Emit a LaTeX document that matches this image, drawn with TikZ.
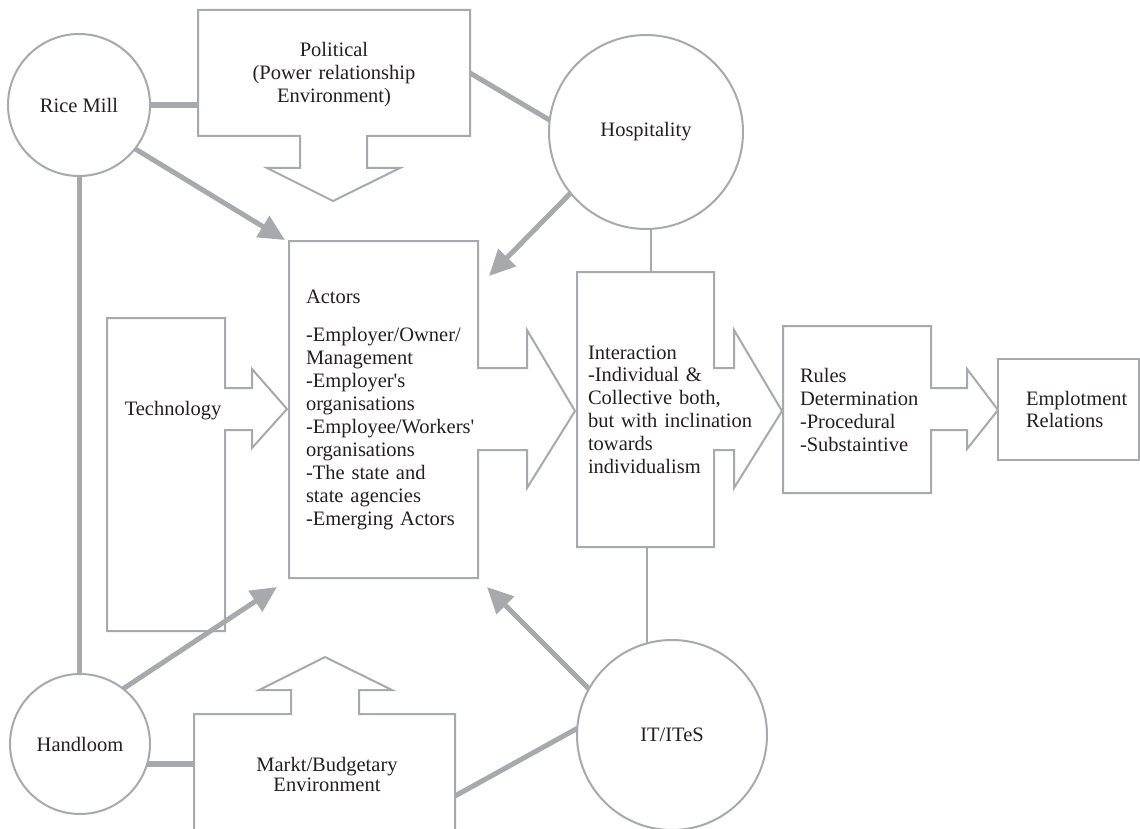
\documentclass[tikz,border=0pt]{standalone}
\usepackage{fontspec}
\setmainfont{Liberation Serif}[Ligatures=TeXOff]
\usetikzlibrary{arrows.meta,calc}
\definecolor{linec}{HTML}{A7A9AC}
\definecolor{textc}{HTML}{231F20}
\begin{document}
\begin{tikzpicture}[x=1pt,y=-1pt,
  outline/.style={draw=linec, line width=2pt, fill=white, line join=miter},
  hub/.style={circle, draw=linec, line width=2pt, fill=white, inner sep=0pt, outer sep=0pt, text=textc, font=\fontsize{20.5}{23}\selectfont},
  area/.style={rectangle, inner sep=0pt, outer sep=0pt},
  txt/.style={inner sep=0pt, outer sep=0pt, text=textc, font=\fontsize{20.5}{22.9}\selectfont, align=left, anchor=base west},
  thickline/.style={draw=linec, line width=6pt},
  link/.style={draw=linec, line width=5pt},
  thinline/.style={draw=linec, line width=2pt},
  push/.style={draw=linec, line width=5pt, -{Triangle[length=26pt,width=24pt]}}
]
\fill[white] (0,0) rectangle (1140,829);
\useasboundingbox (0,0) rectangle (1140,829);

% block-arrow outlines
\draw[outline] (198,10) -- (470,10) -- (470,136) -- (367,136) -- (367,168) -- (400,168) -- (333,201) -- (267,168) -- (300,168) -- (300,136) -- (198,136) -- cycle;
\draw[outline] (107,318) -- (225,318) -- (225,388) -- (252,388) -- (252,369) -- (287,409) -- (252,448) -- (252,430) -- (225,430) -- (225,631) -- (107,631) -- cycle;
\draw[outline] (289,241) -- (478,241) -- (478,368) -- (527,368) -- (527,330) -- (575,411) -- (527,488) -- (527,450) -- (478,450) -- (478,578) -- (289,578) -- cycle;
\draw[outline] (577,272) -- (714,272) -- (714,368) -- (734,368) -- (734,330) -- (782,411) -- (734,488) -- (734,450) -- (714,450) -- (714,547) -- (577,547) -- cycle;
\draw[outline] (783,326) -- (931,326) -- (931,388) -- (967,388) -- (967,369) -- (998,410) -- (967,449) -- (967,430) -- (931,430) -- (931,493) -- (783,493) -- cycle;
\draw[outline] (998,359) rectangle (1139,460);
\draw[outline] (194,845) -- (194,714) -- (291,714) -- (291,690) -- (259,690) -- (325,657) -- (392,690) -- (359,690) -- (359,714) -- (455,714) -- (455,845);

% named areas of the boxes
\node[area, minimum width=272pt, minimum height=126pt] (pol) at (334,73) {};
\node[area, minimum width=189pt, minimum height=337pt] (actors) at (383.5,409.5) {};
\node[area, minimum width=137pt, minimum height=275pt] (inter) at (645.5,409.5) {};
\node[area, minimum width=261pt, minimum height=115pt] (market) at (324.5,771.5) {};

% circles
\node[hub, minimum size=142pt] (rice) at (79,105) {Rice Mill};
\node[hub, minimum size=194pt] (hosp) at (646,132) {Hospitality};
\node[hub, minimum size=140pt] (hand) at (80,744) {Handloom};
\node[hub, minimum size=190pt] (it) at (672,735) {IT/ITeS};

% texts
\node[txt, align=center, anchor=base, text width=260pt, font=\fontsize{20.5}{23}\selectfont] (poltxt) at (334,57) {Political\\(Power relationship\\Environment)};
\node[txt, anchor=base] (techtxt) at (173,415) {Technology};
\node[txt, text width=200pt] (actxt) at (306,303) {Actors\\[16pt]-Employer/Owner/\\Management\\-Employer's\\organisations\\-Employee/Workers'\\organisations\\-The state and\\state agencies\\-Emerging Actors};
\node[txt, text width=200pt, font=\fontsize{20.5}{22.8}\selectfont] (intxt) at (588,359) {Interaction\\-Individual \&\\Collective both,\\but with inclination\\towards\\individualism};
\node[txt, text width=160pt, font=\fontsize{20.5}{23}\selectfont] (rutxt) at (800,382) {Rules\\Determination\\-Procedural\\-Substaintive};
\node[txt, text width=120pt, font=\fontsize{20.5}{22.5}\selectfont] (emtxt) at (1026,405) {Emplotment\\Relations};
\node[txt, align=center, anchor=base, text width=250pt, font=\fontsize{20.5}{20}\selectfont] (mktxt) at (327,771) {Markt/Budgetary\\Environment};

% connectors
\draw[thickline] (rice.east) -- (rice.east -| pol.west);
\draw[link] (pol.east) -- (hosp.173);
\draw[link] (rice.south) -- (rice.south |- hand.north);
\draw[thickline] (hand.-17) -- (hand.-17 -| market.west);
\draw[link] ($(market.east)+(0,24.5)$) -- (it.176);
\draw[thinline] (hosp.273) -- (hosp.273 |- inter.north);
\draw[thinline] (inter.south -| it.105) -- (it.105);
\draw[push] (rice.-38) -- ($(actors.north west)+(-4,-1)$);
\draw[push] (hosp.219) -- ($(actors.north east)+(11,35)$);
\draw[push] (hand.52) -- ($(actors.south west)+(-12,9)$);
\draw[push] (it.151) -- ($(actors.south east)+(9,9)$);
\end{tikzpicture}
\end{document}
